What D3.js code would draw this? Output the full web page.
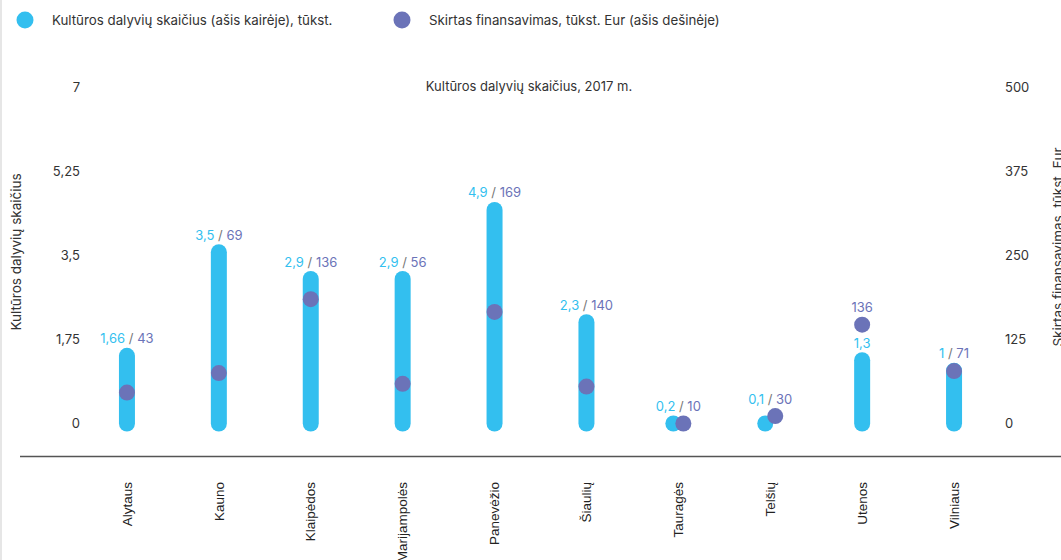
<!DOCTYPE html>
<html lang="lt">
<head>
<meta charset="UTF-8">
<title>Kultūros dalyvių skaičius, 2017 m.</title>
<script src="https://d3js.org/d3.v7.min.js"></script>
<style>
  body { margin: 0; background: #fff; }
  svg { font-family: Inter, "Noto Sans", sans-serif; display: block; }
</style>
</head>
<body>
<svg id="chart" width="1061" height="560"></svg>
<script>
// regions and values (bars read on the left axis, dots on the right axis)
const regions = ["Alytaus", "Kauno", "Klaipėdos", "Marijampolės", "Panevėžio",
                 "Šiaulių", "Tauragės", "Telšių", "Utenos", "Vilniaus"];
const participants = [1.41, 3.57, 3.01, 3.01, 4.45, 2.11, 0, 0, 1.32, 1.1];
const funding = [46, 75, 185, 59, 166, 55, 0, 11, 147, 78];
// the value labels printed above the marks
const participantLabels = ["1,66", "3,5", "2,9", "2,9", "4,9", "2,3", "0,2", "0,1", "1,3", "1"];
const fundingLabels = ["43", "69", "136", "56", "169", "140", "10", "30", "136", "71"];
const leftTicks = [0, 1.75, 3.5, 5.25, 7];
const rightTicks = [0, 125, 250, 375, 500];

const cyan = "#33bfef";
const violet = "#6b73b8";

const svg = d3.select("#chart");
const width = +svg.attr("width");

const lt = d3.formatLocale({decimal: ",", thousands: " ", grouping: [3], currency: ["", "€"]});
const fmt = lt.format("~g");

const xScale = d3.scaleBand().domain(regions).range([81, 1000]).padding(0);
const yLeft = d3.scaleLinear().domain([0, 7]).range([423.5, 87.5]);
const yRight = d3.scaleLinear().domain([0, 500]).range([423.5, 87.5]);

// faint page edge
svg.append("line")
  .attr("x1", 1).attr("x2", 1).attr("y1", 0).attr("y2", 560)
  .attr("stroke", "#e6e6e6").attr("stroke-width", 2);

// legend
const legend = [
  {label: "Kultūros dalyvių skaičius (ašis kairėje), tūkst.", color: cyan, x: 25},
  {label: "Skirtas finansavimas, tūkst. Eur (ašis dešinėje)", color: violet, x: 402}
];
legend.forEach(d => {
  svg.append("circle").attr("cx", d.x).attr("cy", 20).attr("r", 8.5).attr("fill", d.color);
  svg.append("text").attr("x", d.x + 27).attr("y", 24.5)
    .style("font-size", "13.3px").attr("fill", "#333").text(d.label);
});

// chart title
svg.append("text").attr("x", 529).attr("y", 90.5)
  .attr("text-anchor", "middle").style("font-size", "13px").attr("fill", "#333")
  .text("Kultūros dalyvių skaičius, 2017 m.");

// axes
const leftAxis = svg.append("g")
  .attr("transform", "translate(80,0)")
  .call(d3.axisLeft(yLeft).tickValues(leftTicks).tickSize(0).tickPadding(0).tickFormat(fmt));
const rightAxis = svg.append("g")
  .attr("transform", "translate(1005,0)")
  .call(d3.axisRight(yRight).tickValues(rightTicks).tickSize(0).tickPadding(0).tickFormat(fmt));
[leftAxis, rightAxis].forEach(g => {
  g.select(".domain").remove();
  g.selectAll("text").style("font-size", "13px").style("font-family", "Inter, sans-serif")
    .attr("fill", "#333").attr("dy", "0.3em");
});

svg.append("text")
  .attr("transform", "translate(21,252) rotate(-90)")
  .attr("text-anchor", "middle").style("font-size", "13.5px").attr("fill", "#333")
  .text("Kultūros dalyvių skaičius");
svg.append("text")
  .attr("transform", "translate(1063,247) rotate(-90)")
  .attr("text-anchor", "middle").style("font-size", "13.5px").attr("fill", "#333")
  .text("Skirtas finansavimas, tūkst. Eur");

// bottom line
svg.append("line")
  .attr("x1", 20).attr("x2", width).attr("y1", 456.5).attr("y2", 456.5)
  .attr("stroke", "#555").attr("stroke-width", 1.5);

// category labels
const xAxis = svg.append("g")
  .attr("transform", "translate(0,482)")
  .call(d3.axisBottom(xScale).tickSize(0).tickPadding(0));
xAxis.select(".domain").remove();
xAxis.selectAll("text")
  .attr("transform", "rotate(-90)")
  .attr("text-anchor", "end")
  .attr("x", 0).attr("y", 0).attr("dy", "0.35em")
  .style("font-size", "13.5px")
  .style("font-family", "'Liberation Sans', Arial, sans-serif")
  .attr("fill", "#222");

const rows = regions.map((r, i) => ({
  region: r, p: participants[i], f: funding[i],
  pl: participantLabels[i], fl: fundingLabels[i]
}));

const marks = svg.append("g");
const bw = 16, r = 8;

rows.forEach(d => {
  const cx = xScale(d.region) + xScale.bandwidth() / 2;
  const y0 = yLeft(0), y1 = yLeft(d.p);
  const dx = d.p === 0 ? 5 : 0;   // dodge bar and dot apart when the bar is empty

  marks.append("rect")
    .attr("x", cx - dx - bw / 2).attr("y", y1 - bw / 2)
    .attr("width", bw).attr("height", y0 - y1 + bw)
    .attr("rx", bw / 2).attr("fill", cyan);

  const cy = yRight(d.f);
  marks.append("circle")
    .attr("cx", cx + dx).attr("cy", cy).attr("r", r).attr("fill", violet);

  const barTop = y1 - bw / 2;
  const dotTop = cy - r;
  if (cy < y1 - 16) {
    // dot sits well above the bar: separate labels
    marks.append("text").attr("x", cx).attr("y", barTop - 9).attr("dy", "0.35em")
      .attr("text-anchor", "middle").style("font-size", "13px").attr("fill", cyan).text(d.pl);
    marks.append("text").attr("x", cx).attr("y", dotTop - 9).attr("dy", "0.35em")
      .attr("text-anchor", "middle").style("font-size", "13px").attr("fill", violet).text(d.fl);
  } else {
    const t = marks.append("text").attr("x", cx)
      .attr("y", Math.min(barTop, dotTop) - 9).attr("dy", "0.35em")
      .attr("text-anchor", "middle").style("font-size", "13px");
    t.append("tspan").attr("fill", cyan).text(d.pl);
    t.append("tspan").attr("fill", "#777").text(" / ");
    t.append("tspan").attr("fill", violet).text(d.fl);
  }
});
</script>
</body>
</html>
